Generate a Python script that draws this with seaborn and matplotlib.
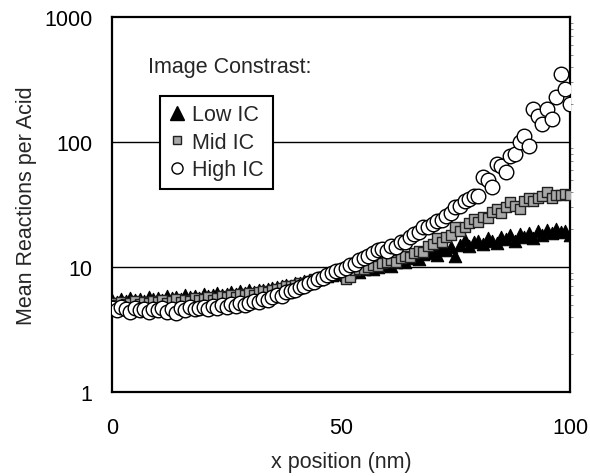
import numpy as np
import pandas as pd
import matplotlib
matplotlib.use("Agg")
import matplotlib.pyplot as plt
import seaborn as sns
from matplotlib.lines import Line2D

# x positions (nm), one point per nm
x_nm = np.arange(0, 101)

low_ic = [
    5.5, 5.3, 5.6, 5.4, 5.7, 5.5, 5.6, 5.4, 5.8, 5.6,
    5.7, 5.5, 5.9, 5.7, 5.8, 5.6, 6.0, 5.8, 5.9, 5.7,
    6.1, 5.9, 6.0, 6.2, 6.0, 6.1, 6.3, 6.1, 6.4, 6.2,
    6.5, 6.3, 6.6, 6.5, 6.7, 6.8, 6.9, 7.0, 7.2, 7.1,
    7.4, 7.5, 7.7, 7.8, 8.0, 8.1, 8.3, 8.5, 8.6, 8.8,
    8.9, 8.7, 9.1, 9.3, 9.2, 9.6, 9.8, 9.7, 10.1, 10.3,
    10.5, 10.2, 11.0, 11.3, 10.9, 11.8, 12.2, 11.6, 12.8, 13.0,
    13.5, 12.4, 14.2, 13.8, 14.6, 12.3, 15.1, 16.5, 14.8, 15.9,
    16.3, 15.2, 17.0, 16.1, 15.5, 17.4, 16.8, 17.9, 16.2, 18.3,
    17.5, 18.9, 17.1, 19.4, 18.0, 19.8, 18.6, 20.2, 19.1, 19.6,
    18.2,
]

mid_ic = [
    5.2, 5.0, 5.3, 5.1, 5.2, 5.4, 5.1, 5.3, 5.2, 5.4,
    5.3, 5.5, 5.2, 5.4, 5.6, 5.3, 5.5, 5.4, 5.7, 5.5,
    5.6, 5.8, 5.5, 5.7, 5.9, 5.8, 6.0, 5.8, 6.1, 6.0,
    6.2, 6.0, 6.3, 6.4, 6.3, 6.6, 6.7, 6.8, 7.0, 7.1,
    7.2, 7.4, 7.5, 7.8, 8.0, 8.1, 8.4, 8.6, 8.8, 9.0,
    9.1, 8.0, 8.3, 9.5, 9.7, 9.6, 10.0, 10.3, 10.2, 10.8,
    11.0, 11.3, 11.0, 11.8, 12.3, 12.0, 12.9, 13.5, 13.2, 14.7,
    15.2, 17.0, 16.0, 17.5, 18.2, 20.9, 19.5, 21.0, 22.5, 24.3,
    23.0, 25.0, 24.5, 27.5, 29.0, 27.0, 30.5, 33.0, 31.0, 29.0,
    34.0, 36.0, 33.6, 35.7, 37.0, 40.0, 36.0, 38.0, 37.5, 38.4,
    38.0,
]

high_ic = [
    4.7, 4.5, 4.8, 4.6, 4.4, 4.7, 4.5, 4.6, 4.4, 4.6,
    4.5, 4.7, 4.4, 4.6, 4.3, 4.7, 4.5, 4.8, 4.6, 4.7,
    4.8, 4.6, 4.9, 4.7, 5.0, 4.8, 5.1, 4.9, 5.2, 5.0,
    5.2, 5.4, 5.3, 5.6, 5.5, 5.8, 6.0, 5.9, 6.3, 6.4,
    6.6, 6.9, 7.1, 7.4, 7.6, 8.0, 8.2, 8.6, 8.9, 9.3,
    9.4, 9.9, 10.4, 10.6, 11.3, 11.8, 12.2, 12.9, 13.6, 14.0,
    13.5, 14.8, 14.5, 16.0, 15.8, 17.5, 18.4, 19.0, 20.9, 21.0,
    22.0, 23.4, 24.0, 25.5, 27.0, 30.2, 31.0, 33.6, 35.0, 37.0,
    37.0, 53.0, 50.0, 44.0, 67.0, 64.0, 58.0, 77.0, 80.0, 100.0,
    112.0, 93.0, 184.0, 161.0, 139.0, 184.0, 153.0, 229.0, 350.0, 265.0,
    201.0,
]

series_names = ["Low IC", "Mid IC", "High IC"]

df = pd.DataFrame({
    "x": np.concatenate([x_nm, x_nm, x_nm]),
    "y": np.concatenate([low_ic, mid_ic, high_ic]),
    "series": np.repeat(series_names, len(x_nm)),
})

sns.set_style("white")
plt.rcParams["font.family"] = ["Liberation Sans", "DejaVu Sans"]

fig = plt.figure(figsize=(5.9, 4.77), dpi=100)
ax = fig.add_axes([0.19, 0.176, 0.776, 0.786])

styles = {
    "Low IC": dict(marker="^", s=80, color="black", edgecolor="black", linewidth=0.8),
    "Mid IC": dict(marker="s", s=50, color="#a8a8a8", edgecolor="#202020", linewidth=1.0),
    "High IC": dict(marker="o", s=110, color="white", edgecolor="black", linewidth=1.0),
}
for name in series_names:
    sub = df[df["series"] == name]
    sns.scatterplot(data=sub, x="x", y="y", ax=ax, legend=False, zorder=3, **styles[name])

ax.set_yscale("log")
ax.set_xlim(0, 100)
ax.set_ylim(1, 1000)
ax.set_xticks([0, 50, 100])
ax.set_yticks([1, 10, 100, 1000])
ax.set_yticklabels(["1", "10", "100", "1000"])
ax.yaxis.set_minor_locator(matplotlib.ticker.LogLocator(base=10, subs=np.arange(2, 10)))
ax.yaxis.set_minor_formatter(matplotlib.ticker.NullFormatter())
ax.tick_params(axis="both", which="major", direction="out", length=7, width=1.2,
               labelsize=15.5, colors="black", pad=7)
ax.tick_params(axis="x", which="major", pad=11)
ax.tick_params(axis="y", which="minor", left=False, right=True, direction="out",
               length=2, width=0.6, color="#777777")

for y in [10, 100]:
    ax.axhline(y, color="black", linewidth=1.0, zorder=1)

for sp in ax.spines.values():
    sp.set_color("black")
    sp.set_linewidth(1.6)

ax.set_xlabel("x position (nm)", fontsize=15.5, labelpad=9)
ax.set_ylabel("Mean Reactions per Acid", fontsize=15.5, labelpad=5)

ax.text(0.079, 0.867, "Image Constrast:", transform=ax.transAxes, fontsize=15.5,
        va="center", ha="left")

handles = [
    Line2D([], [], linestyle="none", marker="^", markersize=10, color="black"),
    Line2D([], [], linestyle="none", marker="s", markersize=6, markerfacecolor="#a8a8a8",
           markeredgecolor="#202020"),
    Line2D([], [], linestyle="none", marker="o", markersize=8, markerfacecolor="white",
           markeredgecolor="black"),
]
leg = ax.legend(handles, series_names, loc="upper left", bbox_to_anchor=(0.105, 0.79),
                borderaxespad=0, fontsize=15.5, frameon=True, fancybox=False,
                edgecolor="black", framealpha=1, handlelength=0.8, handletextpad=0.3,
                borderpad=0.4, labelspacing=0.3)
leg.get_frame().set_linewidth(1.5)
leg.set_zorder(5)

fig.savefig("out.png", dpi=100)
